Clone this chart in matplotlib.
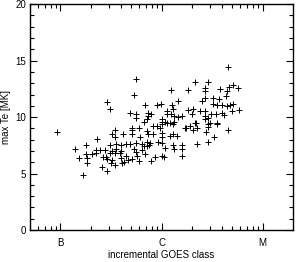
import matplotlib
matplotlib.use("Agg")
import matplotlib.pyplot as plt
from matplotlib.ticker import FixedLocator, FixedFormatter, MultipleLocator, NullFormatter
import numpy as np

# GOES flux in units of 1e-7 W m^-2 (B1 = 1, C1 = 10, M1 = 100)
goes_flux = [
    0.93, 1.38, 1.54, 1.69, 1.77, 1.77, 1.85, 1.85, 2.07, 2.27,
    2.27, 2.32, 2.49, 2.55, 2.61, 2.73, 2.85, 2.92, 2.92, 3.06,
    3.06, 3.20, 3.20, 3.13, 3.43, 3.20, 3.58, 3.43, 3.84, 3.43,
    3.50, 3.58, 3.93, 3.93, 3.93, 4.11, 4.02, 4.30, 4.50, 4.50,
    4.61, 4.82, 5.05, 5.16, 5.05, 5.16, 5.40, 5.65, 5.65, 5.78,
    5.92, 5.92, 6.19, 6.63, 6.79, 7.10, 7.27, 7.44, 7.61, 7.78,
    8.15, 8.15, 8.53, 8.92, 9.13, 10.0, 10.0, 10.2, 10.0, 10.0,
    10.7, 10.5, 11.2, 12.0, 12.0, 12.9, 12.9, 13.4, 14.1, 15.8,
    16.1, 15.8, 17.3, 18.9, 20.3, 21.7, 22.2, 22.2, 27.3, 28.5,
    28.5, 32.7, 35.1, 45.0, 7.10, 6.34, 7.10, 6.34, 5.65, 5.40,
    2.92, 3.06, 4.82, 5.65, 6.79, 7.27, 7.27, 7.10, 6.63, 5.53,
    10.2, 8.92, 9.77, 21.2, 28.5, 26.7, 12.3, 18.1, 26.7, 37.5,
    45.0, 46.1, 50.5, 56.5, 44.0, 43.0, 26.7, 32.0, 24.9, 32.0,
    36.7, 35.1, 39.3, 44.0, 47.1, 50.5, 12.6, 14.4, 11.2, 12.9,
    18.1, 20.3, 23.8, 26.7, 30.5, 34.3, 11.2, 12.3, 14.7, 19.8,
    26.7, 28.5, 10.0, 10.7, 13.4, 21.2, 26.7, 29.9, 35.1, 39.3,
    41.0, 49.3, 57.8, 7.78, 13.4, 16.1, 12.9, 9.55, 16.9, 28.5,
]

max_te = [
    8.7, 7.2, 6.4, 4.9, 7.5, 6.7, 6.4, 5.9, 6.7, 6.8,
    7.1, 8.1, 7.1, 5.6, 6.5, 7.1, 6.5, 5.2, 6.3, 7.5,
    6.8, 8.5, 6.2, 5.9, 8.2, 7.0, 7.2, 6.8, 6.8, 8.9,
    5.8, 7.6, 7.5, 7.0, 6.4, 8.5, 5.9, 6.0, 7.6, 6.6,
    6.2, 7.6, 9.0, 8.9, 8.5, 6.3, 7.2, 6.9, 7.7, 6.6,
    9.0, 6.1, 8.2, 7.4, 6.7, 8.8, 8.5, 7.5, 7.7, 6.1,
    9.2, 8.5, 6.5, 9.2, 7.8, 9.4, 8.6, 6.6, 8.2, 7.7,
    7.3, 6.5, 9.5, 9.5, 8.3, 8.5, 7.5, 7.2, 8.3, 7.2,
    7.5, 6.6, 9.0, 9.2, 8.9, 9.5, 9.0, 7.6, 8.7, 9.4,
    7.8, 8.2, 9.4, 8.9, 7.8, 7.6, 7.4, 7.1, 13.4, 12.0,
    11.3, 10.7, 10.4, 10.3, 11.1, 10.4, 10.1, 9.8, 9.6, 9.9,
    9.8, 11.1, 11.2, 13.1, 13.1, 12.6, 12.4, 12.4, 12.3, 12.5,
    14.4, 12.7, 12.8, 12.6, 12.3, 11.9, 11.7, 11.7, 11.4, 11.2,
    11.6, 11.1, 11.1, 11.0, 11.1, 11.2, 11.1, 11.4, 10.5, 10.7,
    10.6, 10.7, 10.5, 10.5, 10.3, 10.3, 10.3, 10.3, 10.0, 10.3,
    10.1, 9.9, 9.6, 9.6, 9.6, 9.5, 9.8, 9.5, 9.5, 10.4,
    10.2, 10.5, 10.6, 10.3, 10.1, 10.1, 9.4, 9.0, 9.0, 9.1,
]

class_ticks = [1e-7, 1e-6, 1e-5]
class_labels = ["B", "C", "M"]

plt.rcParams["font.family"] = ["Liberation Sans", "DejaVu Sans"]
plt.rcParams["font.size"] = 7

fig = plt.figure(figsize=(3.0, 2.62), dpi=100)
ax = fig.add_axes([0.10, 0.122, 0.877, 0.862])

x = np.array(goes_flux) * 1e-7
ax.plot(x, max_te, linestyle="none", marker="+", color="black",
        markersize=5, markeredgewidth=0.7)

ax.set_xscale("log")
ax.set_xlim(5e-8, 2e-5)
ax.set_ylim(0, 20)

ax.xaxis.set_major_locator(FixedLocator(class_ticks))
ax.xaxis.set_major_formatter(FixedFormatter(class_labels))
minor = [m * 10.0 ** e for e in (-8, -7, -6) for m in range(2, 10)]
ax.xaxis.set_minor_locator(FixedLocator(minor))
ax.xaxis.set_minor_formatter(NullFormatter())

ax.yaxis.set_major_locator(MultipleLocator(5))
ax.yaxis.set_minor_locator(MultipleLocator(1))

ax.tick_params(which="both", direction="in", top=True, right=True, width=0.8)
ax.tick_params(which="major", length=5)
ax.tick_params(which="minor", length=3)
ax.tick_params(axis="x", which="major", pad=6)
ax.tick_params(axis="y", which="major", pad=3)

for sp in ax.spines.values():
    sp.set_linewidth(1.0)

ax.set_xlabel("incremental GOES class", labelpad=1)
ax.set_ylabel("max Te [MK]", labelpad=3)

fig.savefig("out.png", dpi=100)
